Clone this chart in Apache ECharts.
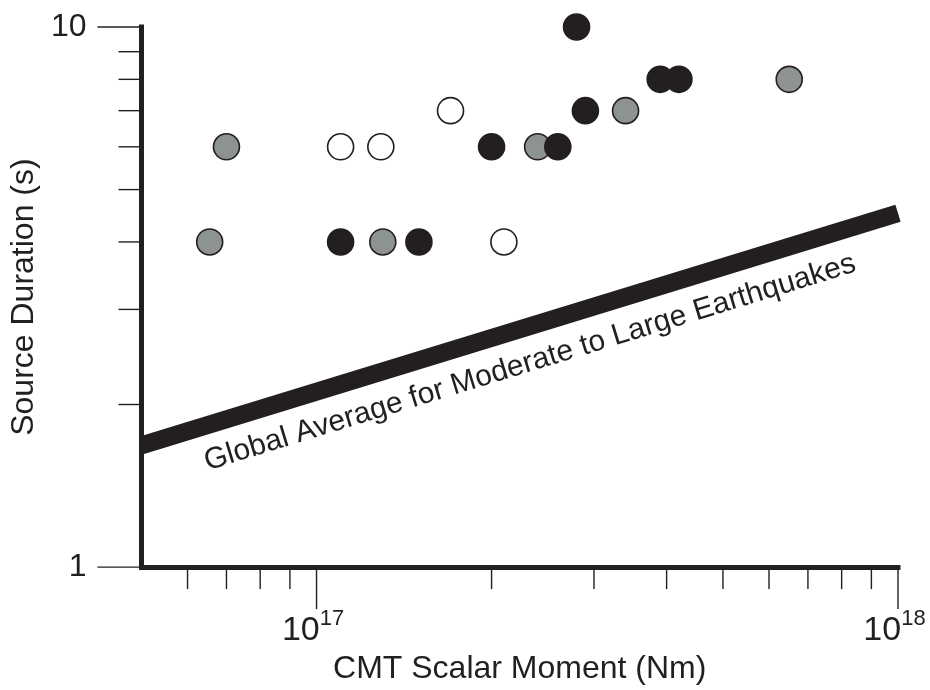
<!DOCTYPE html>
<html>
<head>
<meta charset="utf-8">
<script src="https://cdn.jsdelivr.net/npm/echarts@6/dist/echarts.min.js"></script>
<style>
  html, body { margin: 0; padding: 0; background: #ffffff; }
  #chart { width: 930px; height: 690px; }
</style>
</head>
<body>
<div id="chart"></div>
<script>
// Source duration (s) against CMT scalar moment (N·m), three event groups
const blackMoment   = [1.10e17, 1.50e17, 2.00e17, 2.60e17, 2.80e17, 2.90e17, 3.90e17, 4.20e17];
const blackDuration = [4, 4, 6, 6, 10, 7, 8, 8];
const grayMoment    = [6.55e16, 7.0e16, 1.30e17, 2.40e17, 3.40e17, 6.50e17];
const grayDuration  = [4, 6, 4, 6, 7, 8];
const openMoment    = [1.10e17, 1.29e17, 1.70e17, 2.10e17];
const openDuration  = [6, 6, 7, 4];

// Global average scaling for moderate to large earthquakes
const globalMoment   = [5e16, 1e18];
const globalDuration = [1.68, 4.52];
const globalLabel    = 'Global Average for Moderate to Large Earthquakes';

// Axis ranges, tick marks and tick labels
const xRange = [5e16, 1e18];
const yRange = [1, 10];
const xMajorTicks = [1e17, 1e18];
const xMinorTicks = [6e16, 7e16, 8e16, 9e16, 2e17, 3e17, 4e17, 5e17, 6e17, 7e17, 8e17, 9e17];
const yMajorTicks = [1, 10];
const yMinorTicks = [2, 3, 4, 5, 6, 7, 8, 9];
const xTickExponents = [17, 18];
const yTickLabels = [1, 10];

const INK = '#231f20';
const GRAY = '#8d9391';
const FONT = '"Liberation Sans", Arial, Helvetica, sans-serif';

const zip = (a, b) => a.map((v, i) => [v, b[i]]);

// tick mark renderers: draw outward from the axis line
function xTickRenderer(len) {
  return function (params, api) {
    const p = api.coord([api.value(0), api.value(1)]);
    return { type: 'line', shape: { x1: p[0], y1: p[1] + 2, x2: p[0], y2: p[1] + len },
             style: { stroke: INK, lineWidth: 1.4 } };
  };
}
function yTickRenderer(len) {
  return function (params, api) {
    const p = api.coord([api.value(0), api.value(1)]);
    return { type: 'line', shape: { x1: p[0] - 2, y1: p[1], x2: p[0] - len, y2: p[1] },
             style: { stroke: INK, lineWidth: 1.4 } };
  };
}

const markerBase = { type: 'scatter', symbol: 'circle', symbolSize: 26, silent: true };

const option = {
  animation: false,
  backgroundColor: '#ffffff',
  textStyle: { fontFamily: FONT, color: INK },
  grid: { left: 140, right: 32, top: 27, bottom: 120, containLabel: false },
  xAxis: {
    type: 'log', logBase: 10, min: xRange[0], max: xRange[1],
    name: 'CMT Scalar Moment (Nm)', nameLocation: 'middle', nameGap: 85,
    nameTextStyle: { fontSize: 32, lineHeight: 32, color: INK, fontFamily: FONT },
    axisLine: { show: true, lineStyle: { color: INK, width: 5, cap: 'square' } },
    axisTick: { show: false },
    splitLine: { show: false },
    axisLabel: {
      margin: 41,
      padding: [0, 7, 0, 0],
      formatter: function (v) {
        const e = Math.round(Math.log10(v));
        if (Math.abs(Math.log10(v) - e) > 1e-6 || xTickExponents.indexOf(e) < 0) return '';
        return '{b|10}{s|' + e + '}';
      },
      rich: {
        b: { fontSize: 34, lineHeight: 40, verticalAlign: 'bottom', color: INK, fontFamily: FONT },
        s: { fontSize: 22, lineHeight: 10, verticalAlign: 'top', color: INK, fontFamily: FONT }
      }
    }
  },
  yAxis: {
    type: 'log', logBase: 10, min: yRange[0], max: yRange[1],
    name: 'Source Duration (s)', nameLocation: 'middle', nameGap: 93,
    nameTextStyle: { fontSize: 32, lineHeight: 32, color: INK, fontFamily: FONT },
    axisLine: { show: true, lineStyle: { color: INK, width: 5, cap: 'square' } },
    axisTick: { show: false },
    splitLine: { show: false },
    axisLabel: {
      margin: 55, fontSize: 32, color: INK, fontFamily: FONT,
      formatter: function (v) {
        const r = Math.round(v);
        return (Math.abs(v - r) < 1e-6 && yTickLabels.indexOf(r) >= 0) ? String(r) : '';
      }
    }
  },
  series: [
    // axis tick marks
    { type: 'custom', silent: true, clip: false, renderItem: xTickRenderer(42),
      data: xMajorTicks.map(v => [v, yRange[0]]), encode: { x: 0, y: 1 } },
    { type: 'custom', silent: true, clip: false, renderItem: xTickRenderer(22),
      data: xMinorTicks.map(v => [v, yRange[0]]), encode: { x: 0, y: 1 } },
    { type: 'custom', silent: true, clip: false, renderItem: yTickRenderer(44),
      data: yMajorTicks.map(v => [xRange[0], v]), encode: { x: 0, y: 1 } },
    { type: 'custom', silent: true, clip: false, renderItem: yTickRenderer(23),
      data: yMinorTicks.map(v => [xRange[0], v]), encode: { x: 0, y: 1 } },

    // global average line with its label
    {
      type: 'scatter', data: [], silent: true, clip: false,
      markLine: {
        silent: true, symbol: ['none', 'none'], animation: false,
        lineStyle: { color: INK, width: 18, type: 'solid', cap: 'butt' },
        label: {
          show: true, position: 'insideMiddleBottom', distance: 20,
          formatter: '{b}', fontSize: 30, lineHeight: 30, color: INK, fontFamily: FONT
        },
        emphasis: { disabled: true },
        data: [[
          { name: globalLabel, coord: [globalMoment[0], globalDuration[0]] },
          { coord: [globalMoment[1], globalDuration[1]] }
        ]]
      }
    },

    // events
    Object.assign({}, markerBase, {
      name: 'open', data: zip(openMoment, openDuration),
      itemStyle: { color: '#ffffff', borderColor: INK, borderWidth: 1.6, opacity: 1 }
    }),
    Object.assign({}, markerBase, {
      name: 'gray', data: zip(grayMoment, grayDuration),
      itemStyle: { color: GRAY, borderColor: INK, borderWidth: 1.6, opacity: 1 }
    }),
    Object.assign({}, markerBase, {
      name: 'black', data: zip(blackMoment, blackDuration),
      itemStyle: { color: INK, borderColor: INK, borderWidth: 1.6, opacity: 1 }
    })
  ]
};

const chart = echarts.init(document.getElementById('chart'), null, { renderer: 'canvas' });
chart.setOption(option);
</script>
</body>
</html>
